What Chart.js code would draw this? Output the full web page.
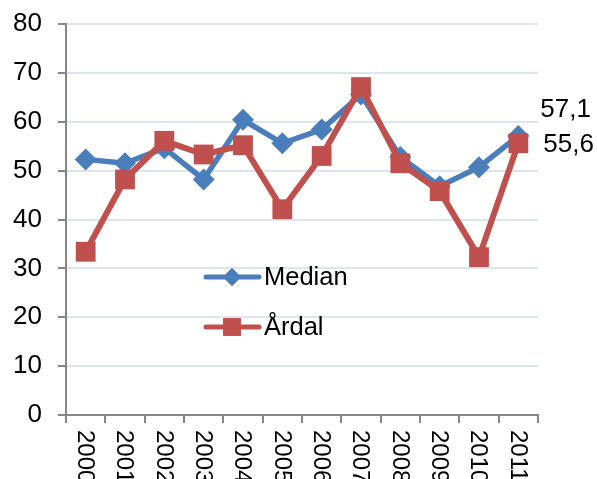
<!DOCTYPE html>
<html>
<head>
<meta charset="utf-8">
<script src="https://cdn.jsdelivr.net/npm/chart.js@4"></script>
<style>
html,body{margin:0;padding:0;background:#fff;}
#wrap{width:597px;height:479px;position:relative;}
</style>
</head>
<body>
<div id="wrap"><canvas id="c" width="597" height="479"></canvas></div>
<script>
const categories = ['2000','2001','2002','2003','2004','2005','2006','2007','2008','2009','2010','2011'];
const medianValues = [52.3, 51.5, 54.6, 48.2, 60.4, 55.6, 58.4, 65.6, 52.8, 46.8, 50.7, 57.1];
const ardalValues = [33.4, 48.2, 56.1, 53.3, 55.2, 42.1, 53.0, 67.1, 51.5, 45.8, 32.3, 55.6];
const seriesNames = ['Median', 'Årdal'];
const lastLabels = ['57,1', '55,6'];
const yTicks = [0, 10, 20, 30, 40, 50, 60, 70, 80];

const BLUE = '#4a7ebb';
const RED = '#c0504d';
const FONT = "'Liberation Sans', Arial, sans-serif";

const customPlugin = {
  id: 'custom',
  afterDraw(chart) {
    const ctx = chart.ctx;
    const xs = chart.scales.x;
    ctx.save();
    ctx.fillStyle = '#000';
    ctx.font = '24px ' + FONT;
    ctx.textAlign = 'left';
    ctx.textBaseline = 'middle';
    categories.forEach((c, i) => {
      const x = xs.getPixelForValue(i);
      ctx.save();
      ctx.translate(x - 1, xs.top + 15);
      ctx.rotate(Math.PI / 2);
      ctx.fillText(c, 0, 0);
      ctx.restore();
    });
    ctx.restore();

    ctx.save();
    ctx.font = '26px ' + FONT;
    ctx.fillStyle = '#000';
    ctx.textAlign = 'left';
    ctx.textBaseline = 'middle';
    const m0 = chart.getDatasetMeta(0).data;
    const m1 = chart.getDatasetMeta(1).data;
    const p0 = m0[m0.length - 1];
    const p1 = m1[m1.length - 1];
    ctx.fillText(lastLabels[0], p0.x + 22, p0.y - 26);
    ctx.fillText(lastLabels[1], p1.x + 25, p1.y + 2);
    ctx.restore();

    ctx.save();
    const items = [
      {name: seriesNames[0], color: BLUE, style: 'rectRot', r: 9, y: 277},
      {name: seriesNames[1], color: RED, style: 'rect', r: 12.5, y: 327}
    ];
    items.forEach(it => {
      ctx.strokeStyle = it.color;
      ctx.lineWidth = 5;
      ctx.lineCap = 'round';
      ctx.beginPath();
      ctx.moveTo(206, it.y);
      ctx.lineTo(259, it.y);
      ctx.stroke();
      ctx.fillStyle = it.color;
      Chart.helpers.drawPoint(ctx, {pointStyle: it.style, radius: it.r, borderWidth: 0, rotation: 0}, 232, it.y);
      ctx.fill();
      ctx.fillStyle = '#000';
      ctx.font = '25.5px ' + FONT;
      ctx.textAlign = 'left';
      ctx.textBaseline = 'middle';
      ctx.fillText(it.name, 264, it.y + 1);
    });
    ctx.restore();
  }
};

new Chart(document.getElementById('c'), {
  type: 'line',
  data: {
    labels: categories,
    datasets: [
      {
        label: seriesNames[0],
        data: medianValues,
        borderColor: BLUE,
        backgroundColor: BLUE,
        borderWidth: 5.5,
        pointStyle: 'rectRot',
        pointRadius: 11,
        pointBorderWidth: 0,
        pointBackgroundColor: BLUE,
        tension: 0,
        order: 1
      },
      {
        label: seriesNames[1],
        data: ardalValues,
        borderColor: RED,
        backgroundColor: RED,
        borderWidth: 6,
        pointStyle: 'rect',
        pointRadius: 14,
        pointBorderWidth: 0,
        pointBackgroundColor: RED,
        tension: 0,
        order: 0
      }
    ]
  },
  options: {
    responsive: false,
    animation: false,
    devicePixelRatio: 1,
    layout: {padding: {top: 24, right: 59, left: 0, bottom: 0}},
    plugins: {legend: {display: false}, tooltip: {enabled: false}},
    scales: {
      x: {
        offset: true,
        grid: {drawOnChartArea: false, drawTicks: true, tickLength: 8, offset: true, color: '#868686', tickColor: '#868686', lineWidth: 2},
        border: {color: '#868686', width: 2},
        ticks: {display: false},
        afterFit(s) { s.height = 64; s.paddingLeft = 0; s.paddingRight = 0; }
      },
      y: {
        min: 0, max: 80,
        afterBuildTicks(s) { s.ticks = yTicks.map(v => ({value: v})); },
        grid: {color: '#dce6f2', lineWidth: 2, tickColor: '#868686', tickLength: 8, drawTicks: true},
        border: {color: '#868686', width: 2},
        ticks: {font: {family: FONT, size: 26}, color: '#000', padding: 16},
        afterFit(s) { s.width = 66; s.paddingTop = 0; s.paddingBottom = 0; }
      }
    }
  },
  plugins: [customPlugin]
});
</script>
</body>
</html>
